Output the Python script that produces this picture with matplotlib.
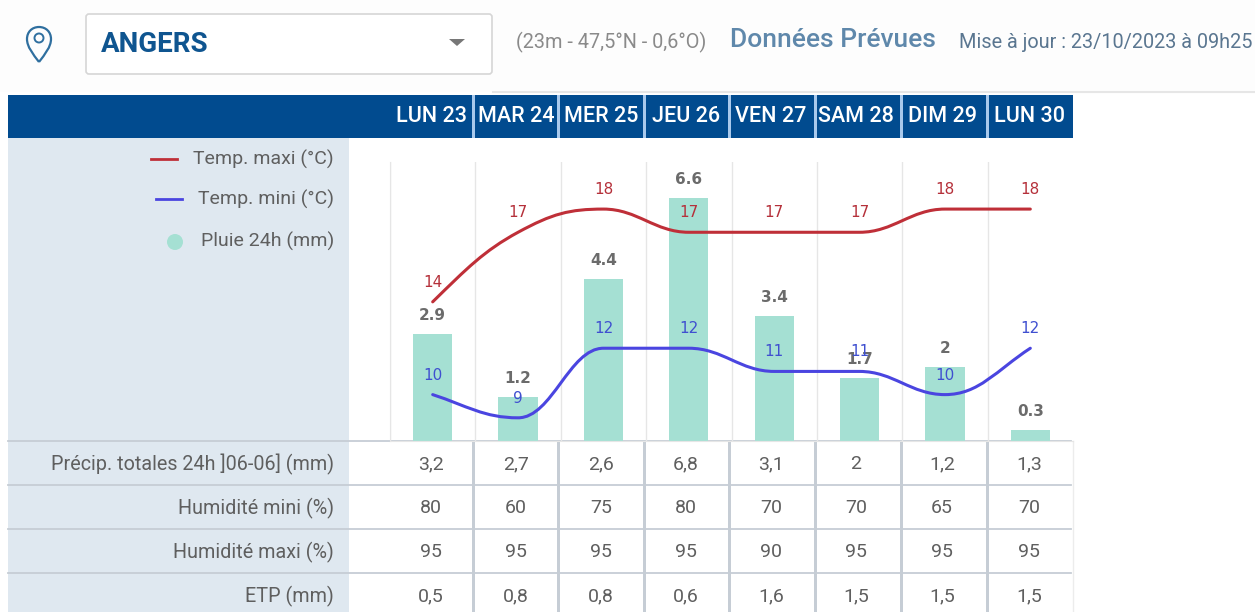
import matplotlib
matplotlib.use("Agg")
import matplotlib.pyplot as plt
from matplotlib.patches import Rectangle, FancyBboxPatch, PathPatch, Polygon, Circle
from matplotlib.path import Path

plt.rcParams['font.family'] = ['Roboto', 'DejaVu Sans']

days = ["LUN 23", "MAR 24", "MER 25", "JEU 26", "VEN 27", "SAM 28", "DIM 29", "LUN 30"]
temp_maxi = [14, 17, 18, 17, 17, 17, 18, 18]
temp_mini = [10, 9, 12, 12, 11, 11, 10, 12]
pluie = [2.9, 1.2, 4.4, 6.6, 3.4, 1.7, 2, 0.3]

row_labels = ["Précip. totales 24h ]06-06] (mm)", "Humidité mini (%)", "Humidité maxi (%)", "ETP (mm)"]
precip = ["3,2", "2,7", "2,6", "6,8", "3,1", "2", "1,2", "1,3"]
humid_mini = ["80", "60", "75", "80", "70", "70", "65", "70"]
humid_maxi = ["95", "95", "95", "95", "90", "95", "95", "95"]
etp = ["0,5", "0,8", "0,8", "0,6", "1,6", "1,5", "1,5", "1,5"]

BLUE = "#014b8f"
SEP = "#a9c9ec"
PANEL = "#dfe8f0"
LINE = "#c6cdd5"
GREY = "#5f5f5f"
RED = "#bf2f38"
VIOLET = "#4a45e0"
TEAL = "#a5e0d3"
W, H = 1255, 612


def smoothPath(xs, ys):
    # bezier through the points, flat at each peak or plateau
    slopes = []
    for i in range(len(ys)):
        if i == 0:
            slopes.append((ys[1] - ys[0]) * 1.2)
        elif i == len(ys) - 1:
            slopes.append((ys[i] - ys[i - 1]) * 1.2)
        elif (ys[i] - ys[i - 1]) * (ys[i + 1] - ys[i]) <= 0:
            slopes.append(0)
        else:
            slopes.append((ys[i + 1] - ys[i - 1]) / 2)
    verts = [(xs[0], ys[0])]
    codes = [Path.MOVETO]
    for i in range(len(ys) - 1):
        verts.append((xs[i] + 0.4, ys[i] + slopes[i] * 0.4))
        verts.append((xs[i + 1] - 0.4, ys[i + 1] - slopes[i + 1] * 0.4))
        verts.append((xs[i + 1], ys[i + 1]))
        codes += [Path.CURVE4] * 3
    return Path(verts, codes)


fig = plt.figure(figsize=(W / 100, H / 100), dpi=100, facecolor="white")

# page furniture drawn in pixel coordinates
page = fig.add_axes([0, 0, 1, 1])
page.set_xlim(0, W)
page.set_ylim(H, 0)
page.axis("off")

page.add_patch(Rectangle((0, 0), W, 92, color="#fdfdfd", lw=0))
page.plot([493, W], [92, 92], color="#e6e6e6", lw=1.5)

# pin icon
pin = Path([(39, 62), (33, 54), (27, 47), (27, 39), (27, 32), (32, 27), (39, 27),
            (46, 27), (51, 32), (51, 39), (51, 47), (45, 54), (39, 62)],
           [Path.MOVETO] + [Path.CURVE4] * 12)
page.add_patch(PathPatch(pin, fc="none", ec="#2f6f9f", lw=1.6))
page.add_patch(Circle((39, 38), 4.5, fc="none", ec="#2f6f9f", lw=1.4))

# station selector
page.add_patch(FancyBboxPatch((86, 14), 406, 60, boxstyle="round,pad=0,rounding_size=3",
                              fc="white", ec="#d6d6d6", lw=1.2))
page.add_patch(Polygon([(449, 39), (465, 39), (457, 46)], color="#777777", lw=0))
page.text(101, 45, "ANGERS", fontsize=20, fontweight="bold", color="#0f5590", va="center")
page.text(516, 42, "(23m - 47,5°N - 0,6°O)", fontsize=14.3, color="#8a8a8a", va="center")
page.text(730, 40, "Données Prévues", fontsize=19, fontweight="medium", color="#5f88ab", va="center")
page.text(959, 42, "Mise à jour : 23/10/2023 à 09h25", fontsize=14.3, color="#5a7690", va="center")

# blue header with day names
page.add_patch(Rectangle((8, 95), 1065, 43, color=BLUE, lw=0))
page.add_patch(Rectangle((8, 138), 341, H - 138, color=PANEL, lw=0))
cols = [431, 516, 601, 686, 771, 856, 942, 1029]
seps = [473, 558, 644, 729, 815, 901, 987]
for x in seps:
    page.add_patch(Rectangle((x - 1.5, 95), 3, 43, color=SEP, lw=0))
    page.add_patch(Rectangle((x - 1.5, 441), 3, H - 441, color=LINE, lw=0))
for x, d in zip(cols, days):
    page.text(x, 116, d, fontsize=15.5, fontweight="medium", color="white", ha="center", va="center")

# table rows under the chart
row_y = [464, 508, 552, 596]
rows = [precip, humid_mini, humid_maxi, etp]
for y in [441, 485, 529, 573]:
    page.plot([8, 1071], [y, y], color=LINE, lw=1.3)
page.plot([1073, 1073], [441, H], color="#ececec", lw=1)
for y, lab, vals in zip(row_y, row_labels, rows):
    page.text(334, y, lab, fontsize=14.2, color=GREY, ha="right", va="center")
    for x, v in zip(cols, vals):
        page.text(x, y, v, fontsize=14, color=GREY, ha="center", va="center")

# legend in the left panel
page.plot([151, 177], [159, 159], color=RED, lw=2)
page.plot([156, 182], [199, 199], color=VIOLET, lw=2)
page.add_patch(Circle((175, 242), 8, color=TEAL, lw=0))
page.text(334, 159, "Temp. maxi (°C)", fontsize=14, color=GREY, ha="right", va="center")
page.text(334, 199, "Temp. mini (°C)", fontsize=14, color=GREY, ha="right", va="center")
page.text(334, 241, "Pluie 24h (mm)", fontsize=14, color=GREY, ha="right", va="center")

# chart
ax = fig.add_axes([390 / W, 1 - 441 / H, 683 / W, 279 / H], facecolor="none")
xs = list(range(len(days)))
ax.set_xlim(-0.5, 7.5)
ax.set_ylim(0, 7.58)
ax.set_yticks([])
ax.set_xticks([i - 0.5 for i in xs])
ax.set_xticklabels([])
ax.tick_params(length=0)
ax.grid(axis="x", color="#e6e6e6", lw=1)
ax.set_axisbelow(True)
for s in ["top", "right"]:
    ax.spines[s].set_visible(False)
ax.spines["left"].set_color("#e6e6e6")
ax.spines["bottom"].set_color("#e6e6e6")
ax.bar(xs, pluie, width=0.46, color=TEAL, lw=0)
for x, v in zip(xs, pluie):
    ax.annotate(str(v), (x, v), xytext=(0, 14), textcoords="offset pixels", ha="center",
                fontsize=11, fontweight="bold", color="#6b6b6b", family="DejaVu Sans")

ax2 = ax.twinx()
ax2.set_ylim(8, 20.03)
ax2.set_yticks([])
for s in ax2.spines.values():
    s.set_visible(False)
ax2.add_patch(PathPatch(smoothPath(xs, temp_maxi), fc="none", ec=RED, lw=2.2, capstyle="round"))
ax2.add_patch(PathPatch(smoothPath(xs, temp_mini), fc="none", ec=VIOLET, lw=2.2, capstyle="round"))
for x, a, b in zip(xs, temp_maxi, temp_mini):
    ax2.annotate(str(a), (x, a), xytext=(0, 15), textcoords="offset pixels", ha="center",
                 fontsize=11, color="#b5303a", family="DejaVu Sans")
    ax2.annotate(str(b), (x, b), xytext=(0, 15), textcoords="offset pixels", ha="center",
                 fontsize=11, color="#3f4fd0", family="DejaVu Sans")

fig.savefig("out.png", dpi=100)
